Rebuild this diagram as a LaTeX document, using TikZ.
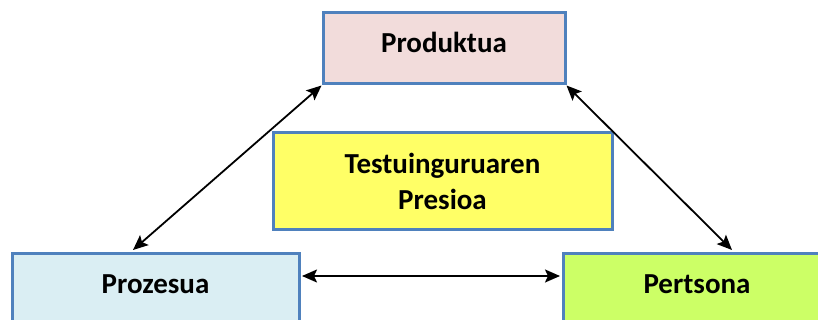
\documentclass[tikz,border=0pt]{standalone}
\usepackage{fontspec}
\setmainfont{Carlito}
\usetikzlibrary{arrows.meta}
\definecolor{bordblue}{HTML}{4F81BD}
\definecolor{fillpink}{HTML}{F2DCDB}
\definecolor{fillblue}{HTML}{DAEEF3}
\definecolor{fillgreen}{HTML}{CCFF66}
\definecolor{fillyellow}{HTML}{FFFF66}
\tikzset{
  box/.style={draw=bordblue, line width=3pt, rectangle, inner sep=0pt, align=center,
    font=\fontsize{29}{36}\selectfont\bfseries},
  onebox/.style={box, text height=18pt, text depth=9pt},
  link/.style={line width=1.8pt, {Stealth[length=15pt,width=13pt,inset=3pt]}-{Stealth[length=15pt,width=13pt,inset=3pt]}}
}
\begin{document}
\begin{tikzpicture}[x=1pt,y=-1pt]
\useasboundingbox (0,0) rectangle (818,320);
\clip (0,0) rectangle (818,320);
\node[onebox, fill=fillpink, minimum width=242pt, minimum height=71pt] (prod) at (444,48.5) {Produktua};
\node[box, fill=fillyellow, minimum width=339pt, minimum height=96pt] (press) at (442.5,181) {Testuinguruaren\\Presioa};
\node[onebox, fill=fillblue, minimum width=287pt, minimum height=71pt] (proz) at (155.5,288.5) {Prozesua};
\node[onebox, fill=fillgreen, minimum width=268pt, minimum height=71pt] (pers) at (697,288.5) {Pertsona};
\coordinate (prozTop) at ([xshift=-22.5pt, yshift=1.5pt]proz.north);
\coordinate (persTop) at ([xshift=35pt, yshift=1.5pt]pers.north);
\draw[link] (prod.south west) -- (prozTop);
\draw[link] (prod.south east) -- (persTop);
\draw[link] ([yshift=12.5pt, xshift=1.5pt]proz.east) -- ([yshift=12.5pt, xshift=-1.5pt]pers.west);
\end{tikzpicture}
\end{document}
